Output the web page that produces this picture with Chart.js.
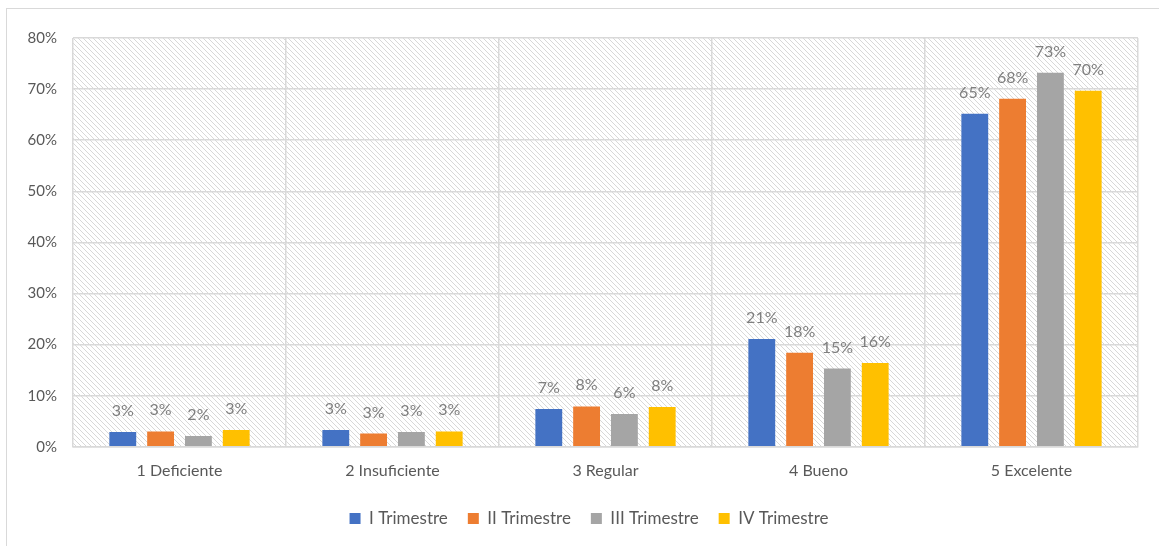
<!DOCTYPE html>
<html>
<head>
<meta charset="utf-8">
<script src="https://cdn.jsdelivr.net/npm/chart.js@4.4.1/dist/chart.umd.min.js"></script>
<style>
  html, body { margin: 0; padding: 0; background: #fff; }
  #frame { position: absolute; left: 6px; top: 8px; width: 1153px; height: 538px;
           border-top: 1.5px solid #d9d9d9; border-left: 1.5px solid #d9d9d9; }
  #wrap { position: absolute; left: 0; top: 0; width: 1159px; height: 546px; }
</style>
</head>
<body>
<div id="frame"></div>
<div id="wrap"><canvas id="chart" width="1159" height="546"></canvas></div>
<script>
const categories = ['1 Deficiente', '2 Insuficiente', '3 Regular', '4 Bueno', '5 Excelente'];
const seriesNames = ['I Trimestre', 'II Trimestre', 'III Trimestre', 'IV Trimestre'];
const trim1 = [2.9, 3.3, 7.4, 21.1, 65.2];
const trim2 = [3.0, 2.6, 7.9, 18.4, 68.1];
const trim3 = [2.1, 2.9, 6.4, 15.3, 73.2];
const trim4 = [3.3, 3.0, 7.8, 16.4, 69.7];
const yTicks = [0, 10, 20, 30, 40, 50, 60, 70, 80];

const colors = ['#4472c4', '#ed7d31', '#a5a5a5', '#ffc000'];
const textGray = '#595959';
const labelGray = '#7f7f7f';
const fontFamily = 'Lato, "Open Sans", sans-serif';

// hatch pattern for the plot area
function makeHatch() {
    const s = 5;
    const c = document.createElement('canvas');
    c.width = s; c.height = s;
    const g = c.getContext('2d');
    g.strokeStyle = '#d8d8d8';
    g.lineWidth = 1;
    g.beginPath();
    g.moveTo(-1, -1); g.lineTo(s + 1, s + 1);
    g.moveTo(-1, s - 1); g.lineTo(1, s + 1);
    g.moveTo(s - 1, -1); g.lineTo(s + 1, 1);
    g.stroke();
    return g.createPattern(c, 'repeat');
}

const hatchPlugin = {
    id: 'hatch',
    beforeDraw(chart) {
        const { ctx, chartArea: a } = chart;
        ctx.save();
        ctx.fillStyle = makeHatch();
        ctx.fillRect(a.left, a.top, a.right - a.left, a.bottom - a.top);
        ctx.restore();
    }
};

// the legend sits a little right of centre and higher in the original
const legendNudge = {
    id: 'legendNudge',
    afterLayout(chart) {
        const lg = chart.legend;
        lg.left += 20; lg.right += 20;
        lg.top -= 4; lg.bottom -= 4;
    }
};

const valueLabels = {
    id: 'valueLabels',
    afterDatasetsDraw(chart) {
        const ctx = chart.ctx;
        ctx.save();
        ctx.font = '16px ' + fontFamily;
        ctx.fillStyle = labelGray;
        ctx.textAlign = 'center';
        ctx.textBaseline = 'alphabetic';
        chart.data.datasets.forEach((ds, i) => {
            chart.getDatasetMeta(i).data.forEach((bar, j) => {
                ctx.fillText(Math.round(ds.data[j]) + '%', bar.x, bar.y - 16);
            });
        });
        ctx.restore();
    }
};

const allSeries = [trim1, trim2, trim3, trim4];

new Chart(document.getElementById('chart'), {
    type: 'bar',
    data: {
        labels: categories,
        datasets: allSeries.map((d, i) => ({
            label: seriesNames[i],
            data: d,
            backgroundColor: colors[i],
            barPercentage: 0.71,
            categoryPercentage: 0.71
        }))
    },
    options: {
        responsive: false,
        animation: false,
        layout: { padding: { top: 38, right: 21, left: 0, bottom: 5 } },
        plugins: {
            legend: {
                position: 'bottom',
                labels: {
                    boxWidth: 11, boxHeight: 11, padding: 20,
                    color: textGray,
                    font: { family: fontFamily, size: 17 }
                }
            },
            tooltip: { enabled: false }
        },
        scales: {
            x: {
                grid: { color: '#d9d9d9', lineWidth: 1.5, drawTicks: false },
                border: { color: '#d9d9d9', width: 1.5 },
                ticks: { color: textGray, padding: 14, font: { family: fontFamily, size: 16 } }
            },
            y: {
                min: 0, max: 80,
                afterFit(scale) { scale.width = 73; },
                afterBuildTicks(scale) { scale.ticks = yTicks.map(v => ({ value: v })); },
                grid: { color: '#d9d9d9', lineWidth: 1.5, drawTicks: false },
                border: { display: false },
                ticks: {
                    color: textGray, padding: 16,
                    font: { family: fontFamily, size: 15 },
                    callback: v => v + '%'
                }
            }
        }
    },
    plugins: [hatchPlugin, valueLabels, legendNudge]
});
</script>
</body>
</html>
